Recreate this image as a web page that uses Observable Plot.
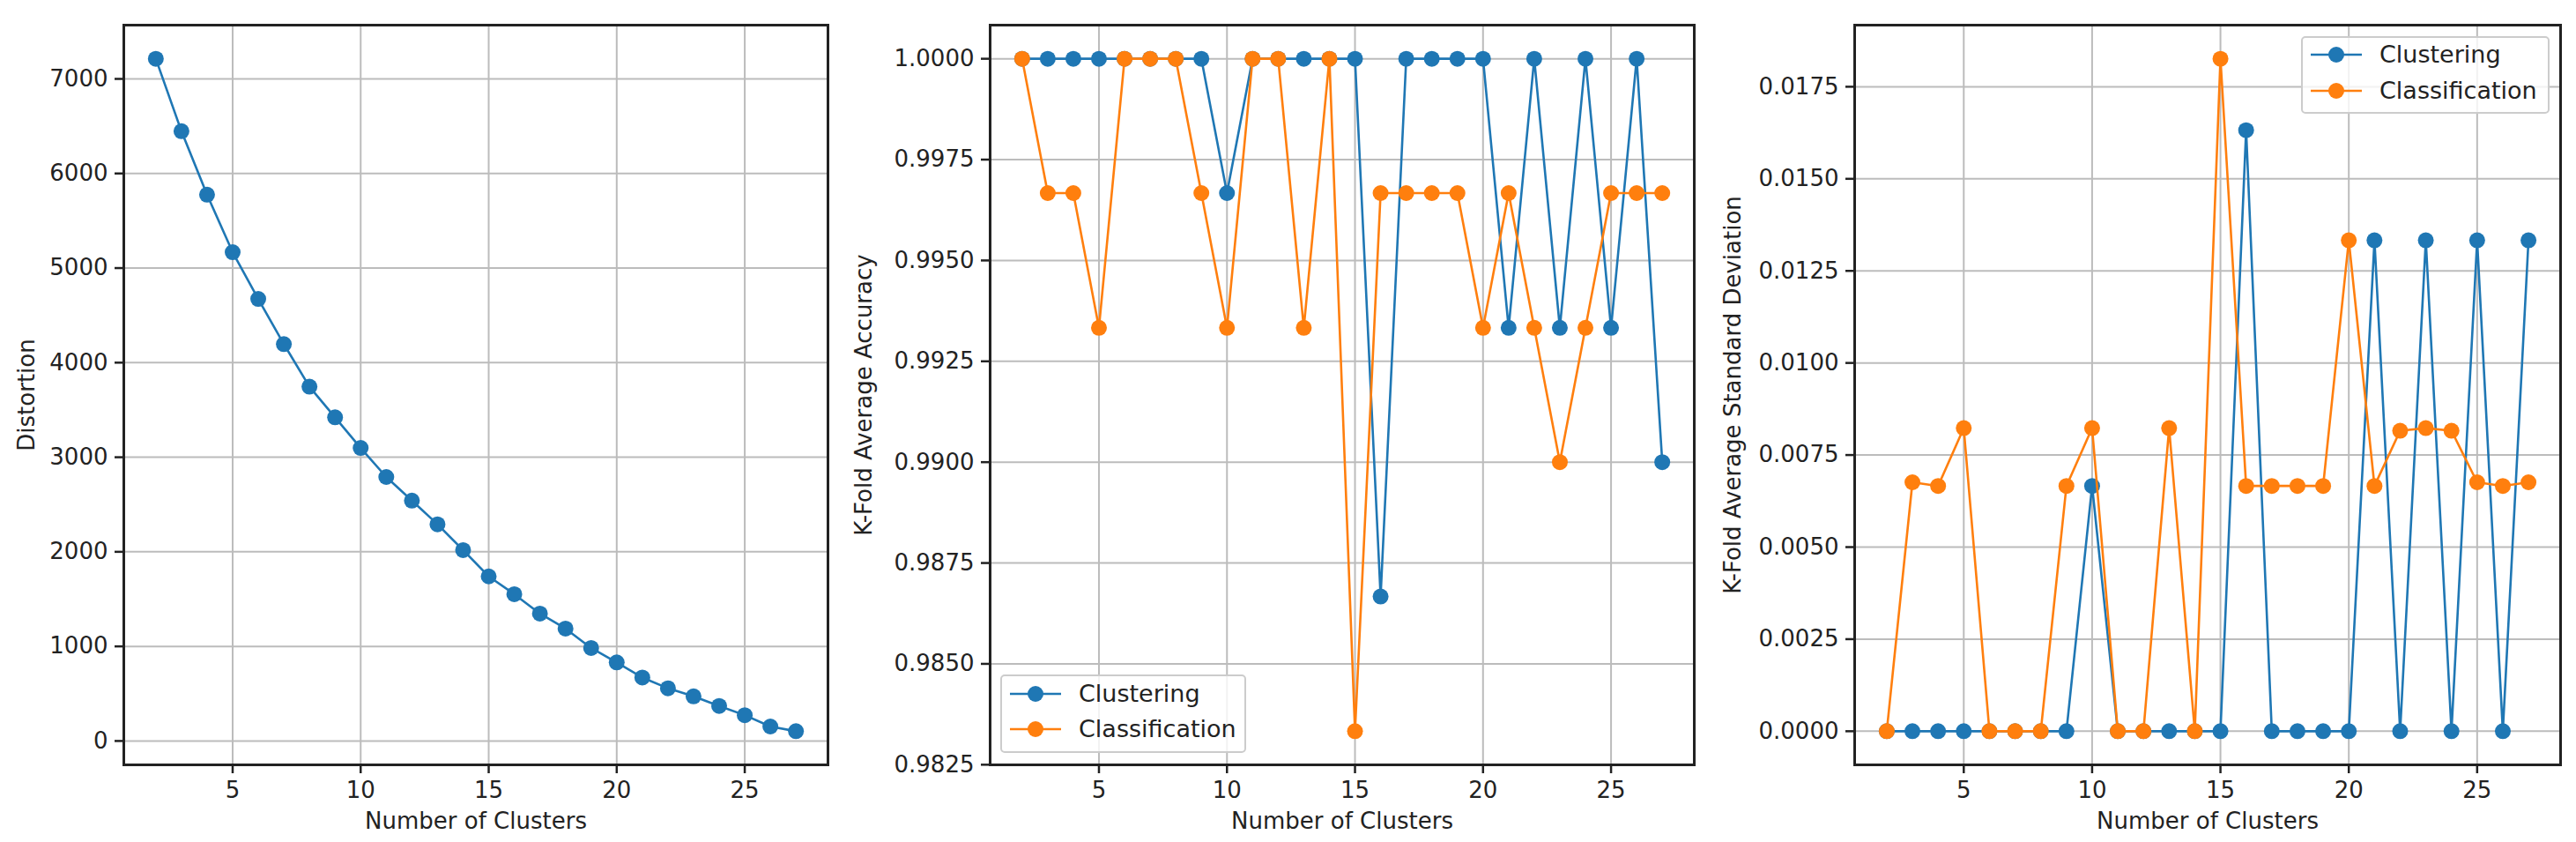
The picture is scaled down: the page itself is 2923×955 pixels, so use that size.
<!DOCTYPE html>
<html><head><meta charset="utf-8">
<script src="https://cdn.jsdelivr.net/npm/d3@7"></script>
<script src="https://cdn.jsdelivr.net/npm/@observablehq/plot@0.6"></script>
<style>
body{margin:0;background:#fff;}
#wrap{position:relative;width:2923px;height:955px;overflow:hidden;background:#fff;}
#wrap > svg{position:absolute;top:0;}
</style></head><body><div id="wrap"></div>
<script>
const clusters = [2,3,4,5,6,7,8,9,10,11,12,13,14,15,16,17,18,19,20,21,22,23,24,25,26,27];
const distortion = [7213,6447,5776,5168,4673,4196,3746,3422,3098,2791,2541,2291,2018,1740,1552,1347,1188,983,830,671,557,472,370,273,153,103];
const accClustering = [1.0,1.0,1.0,1.0,1.0,1.0,1.0,1.0,0.99667,1.0,1.0,1.0,1.0,1.0,0.98667,1.0,1.0,1.0,1.0,0.99333,1.0,0.99333,1.0,0.99333,1.0,0.99];
const accClassification = [1.0,0.99667,0.99667,0.99333,1.0,1.0,1.0,0.99667,0.99333,1.0,1.0,0.99333,1.0,0.98333,0.99667,0.99667,0.99667,0.99667,0.99333,0.99667,0.99333,0.99,0.99333,0.99667,0.99667,0.99667];
const stdClustering = [0,0,0,0,0,0,0,0,0.00666,0,0,0,0,0,0.01632,0,0,0,0,0.01333,0,0.01333,0,0.01333,0,0.01333];
const stdClassification = [0,0.00676,0.00666,0.00823,0,0,0,0.00666,0.00823,0,0,0.00823,0,0.01826,0.00666,0.00666,0.00666,0.00666,0.01333,0.00666,0.00816,0.00823,0.00816,0.00676,0.00666,0.00676];
const xTicks = [5,10,15,20,25];
const yTicksDistortion = [0,1000,2000,3000,4000,5000,6000,7000];
const yTicksAccuracy = [0.9825,0.9850,0.9875,0.9900,0.9925,0.9950,0.9975,1.0000];
const yTicksStd = [0.0000,0.0025,0.0050,0.0075,0.0100,0.0125,0.0150,0.0175];
const seriesNames = ["Clustering","Classification"];
const seriesColors = ["#1f77b4","#ff7f0e"];
const xLabel = "Number of Clusters";
const yLabels = ["Distortion","K-Fold Average Accuracy","K-Fold Average Standard Deviation"];

const FONT = "DejaVu Sans";
const wrap = document.getElementById("wrap");

function padDomain(vals){
  const lo = d3.min(vals), hi = d3.max(vals), p = (hi - lo) * 0.05;
  return [lo - p, hi + p];
}

function panel({series, yTicks, yFormat, yLabel, left, width, marginLeft, marginRight, labelDx, legend}){
  const allY = series.flatMap(s => s.values);
  const marks = [
    Plot.gridX({ticks: xTicks, stroke: "#bcbcbc", strokeOpacity: 1, strokeWidth: 2}),
    Plot.gridY({ticks: yTicks, stroke: "#bcbcbc", strokeOpacity: 1, strokeWidth: 2}),
    Plot.axisX({ticks: xTicks, tickSize: 10, tickPadding: 9, label: null, stroke: "#222", strokeWidth: 2.5, fill: "#222"}),
    Plot.axisY({ticks: yTicks, tickSize: 10, tickPadding: 8, tickFormat: yFormat, label: null, stroke: "#222", strokeWidth: 2.5, fill: "#222"})
  ];
  series.forEach(s => {
    const data = clusters.map((c, i) => ({x: c, y: s.values[i]}));
    marks.push(Plot.line(data, {x: "x", y: "y", stroke: s.color, strokeWidth: 2.6}));
    marks.push(Plot.dot(data, {x: "x", y: "y", r: 9, fill: s.color, stroke: "none"}));
  });
  marks.push(Plot.frame({stroke: "#222", strokeWidth: 3}));
  marks.push(Plot.text([xLabel], {frameAnchor: "bottom", dy: 64, textAnchor: "middle", lineAnchor: "middle", fontSize: 26, fill: "#222"}));
  marks.push(Plot.text([yLabel], {frameAnchor: "left", dx: labelDx, rotate: -90, textAnchor: "middle", lineAnchor: "top", fontSize: 26, fill: "#222"}));
  const svg = Plot.plot({
    width, height: 955,
    marginLeft, marginRight, marginTop: 28, marginBottom: 88,
    x: {domain: padDomain(clusters)},
    y: {domain: padDomain(allY)},
    style: {fontFamily: FONT, fontSize: "26px", background: "transparent", overflow: "visible"},
    marks
  });
  svg.style.left = left + "px";
  wrap.appendChild(svg);
  if (legend) {
    const g = d3.select(svg).append("g").attr("font-family", FONT).attr("font-size", 27).attr("text-anchor", "start");
    g.append("rect").attr("x", legend.x).attr("y", legend.y).attr("width", legend.w).attr("height", legend.h)
      .attr("rx", 4).attr("fill", "white").attr("fill-opacity", 0.8).attr("stroke", "#cccccc").attr("stroke-width", 2);
    series.forEach((s, i) => {
      const cy = legend.y + legend.first + i * legend.step;
      g.append("line").attr("x1", legend.x + 10).attr("x2", legend.x + 68).attr("y1", cy).attr("y2", cy)
        .attr("stroke", s.color).attr("stroke-width", 2.6);
      g.append("circle").attr("cx", legend.x + 39).attr("cy", cy).attr("r", 9).attr("fill", s.color);
      g.append("text").attr("x", legend.x + 88).attr("y", cy).attr("dy", "0.35em").attr("text-anchor", "start")
        .attr("fill", "#222").text(s.name);
    });
  }
}

const fmt4 = d3.format(".4f");

panel({
  series: [{name: "Distortion", values: distortion, color: seriesColors[0]}],
  yTicks: yTicksDistortion, yFormat: d3.format("d"), yLabel: yLabels[0],
  left: 0, width: 960, marginLeft: 140, marginRight: 21, labelDx: -120
});

panel({
  series: [
    {name: seriesNames[0], values: accClustering, color: seriesColors[0]},
    {name: seriesNames[1], values: accClassification, color: seriesColors[1]}
  ],
  yTicks: yTicksAccuracy, yFormat: fmt4, yLabel: yLabels[1],
  left: 940, width: 1002, marginLeft: 183, marginRight: 20, labelDx: -153,
  legend: {x: 196, y: 766, w: 277, h: 87, first: 21, step: 40}
});

panel({
  series: [
    {name: seriesNames[0], values: stdClustering, color: seriesColors[0]},
    {name: seriesNames[1], values: stdClassification, color: seriesColors[1]}
  ],
  yTicks: yTicksStd, yFormat: fmt4, yLabel: yLabels[2],
  left: 1930, width: 993, marginLeft: 174, marginRight: 18, labelDx: -148,
  legend: {x: 682, y: 42, w: 280, h: 86, first: 20, step: 41}
});
</script></body></html>
